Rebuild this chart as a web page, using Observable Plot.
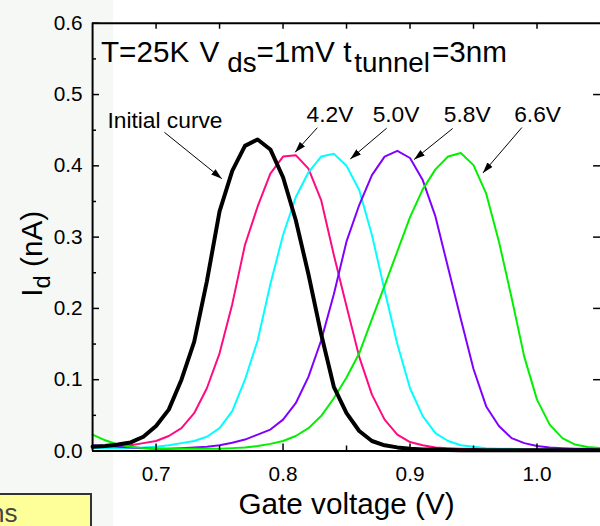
<!DOCTYPE html>
<html>
<head>
<meta charset="utf-8">
<script src="https://cdn.jsdelivr.net/npm/d3@7"></script>
<script src="https://cdn.jsdelivr.net/npm/@observablehq/plot@0.6"></script>
<style>
html,body{margin:0;padding:0;background:#fff;overflow:hidden;width:600px;height:526px;}
#wrap{position:relative;width:600px;height:526px;overflow:hidden;font-family:"Liberation Sans",Arial,Helvetica,sans-serif;}
#band{position:absolute;left:0;top:0;width:113px;height:526px;background:#f6f8f6;}
#chart{position:absolute;left:0;top:0;}
#note{position:absolute;left:-4px;top:493px;width:96px;height:40px;box-sizing:border-box;border-top:2px solid #333;border-right:2px solid #333;background:#ffff99;overflow:hidden;}
#note span{position:absolute;left:-6px;top:5px;font-size:26px;line-height:26px;color:#444;}
</style>
</head>
<body>
<div id="wrap">
  <div id="band"></div>
  <div id="chart"></div>
  <div id="note"><span>ns</span></div>
</div>
<script>
// ---- data ----
const gateV = [0.65,0.66,0.67,0.68,0.69,0.70,0.71,0.72,0.73,0.74,0.75,0.76,0.77,0.78,0.79,0.80,0.81,0.82,0.83,0.84,0.85,0.86,0.87,0.88,0.89,0.90,0.91,0.92,0.93,0.94,0.95,0.96,0.97,0.98,0.99,1.00,1.01,1.02,1.03,1.04,1.05];
const initialCurve = [0.006,0.007,0.009,0.012,0.020,0.035,0.058,0.100,0.153,0.238,0.336,0.393,0.428,0.437,0.423,0.384,0.324,0.248,0.164,0.090,0.053,0.028,0.014,0.008,0.005,0.003,0.002,0.002,0.0015,0.001,0.001,0.001,0.001,0.001,0.001,0.001,0.001,0.001,0.001,0.001,0.001];
const v42 = [0.005,0.006,0.007,0.008,0.011,0.014,0.021,0.032,0.053,0.088,0.137,0.206,0.289,0.343,0.389,0.413,0.415,0.396,0.352,0.275,0.203,0.132,0.079,0.044,0.023,0.0125,0.008,0.005,0.004,0.003,0.003,0.002,0.002,0.002,0.002,0.002,0.002,0.002,0.002,0.002,0.002];
const v50 = [0.004,0.004,0.004,0.004,0.005,0.006,0.008,0.011,0.014,0.020,0.032,0.056,0.100,0.155,0.234,0.303,0.356,0.391,0.413,0.417,0.400,0.366,0.303,0.225,0.150,0.088,0.049,0.025,0.014,0.008,0.006,0.004,0.003,0.003,0.002,0.002,0.002,0.002,0.002,0.002,0.002];
const v58 = [0.008,0.007,0.006,0.005,0.004,0.003,0.003,0.004,0.005,0.006,0.008,0.0115,0.016,0.023,0.030,0.044,0.067,0.104,0.155,0.220,0.294,0.345,0.387,0.413,0.421,0.411,0.380,0.329,0.257,0.185,0.115,0.0625,0.035,0.018,0.011,0.007,0.005,0.004,0.003,0.003,0.003];
const v66 = [0.023,0.015,0.009,0.006,0.004,0.003,0.003,0.003,0.003,0.003,0.003,0.004,0.005,0.007,0.010,0.014,0.021,0.032,0.049,0.074,0.103,0.137,0.185,0.232,0.280,0.328,0.367,0.395,0.413,0.418,0.401,0.361,0.294,0.215,0.132,0.072,0.037,0.018,0.009,0.0056,0.004];

const labelText = ["Initial curve","4.2V","5.0V","5.8V","6.6V"];
const labelX = [0.707,0.837,0.889,0.945,1.0005];
const labelY = [0.464,0.472,0.472,0.472,0.472];
const arrowX1 = [0.7066,0.827,0.8816,0.9336,0.9881];
const arrowY1 = [0.447,0.4535,0.4528,0.4524,0.4538];
const arrowX2 = [0.7518,0.8095,0.853,0.9032,0.9574];
const arrowY2 = [0.382,0.419,0.4097,0.4088,0.390];

const xTickLabels = [0.7,0.8,0.9,1.0];
const xMinorTicks = [0.75,0.85,0.95];
const xTopTicks = [0.7,0.75,0.8,0.85,0.9,0.95,1.0];
const yTickLabels = [0.0,0.1,0.2,0.3,0.4,0.5,0.6];
const yMinorTicks = [0.05,0.15,0.25,0.35,0.45,0.55];
const yRightTicks = [0.1,0.2,0.3,0.4,0.5];

// ---- layout ----
const W = 606, H = 526, mL = 93, mR = 0, mT = 23, mB = 71;
const plotW = W - mL - mR, plotH = H - mT - mB;
const font = '"Liberation Sans", Arial, Helvetica, sans-serif';
const fmt = d3.format(".1f");

const curves = [
  {values: v42, color: "#ff0a80", width: 2},
  {values: v50, color: "#00ffff", width: 2},
  {values: v58, color: "#8000ff", width: 2},
  {values: v66, color: "#00f000", width: 2},
  {values: initialCurve, color: "#000000", width: 4}
];

const plot = Plot.plot({
  width: W, height: H,
  marginLeft: mL, marginRight: mR, marginTop: mT, marginBottom: mB,
  x: {domain: [0.65, 1.05]},
  y: {domain: [0, 0.6]},
  style: {fontFamily: font, background: "transparent", color: "#000", overflow: "visible"},
  marks: [
    ...curves.map(c => Plot.lineY(c.values, {x: gateV, stroke: c.color, strokeWidth: c.width, strokeLinejoin: "round"})),
    // frame (left, bottom, top)
    Plot.ruleX([0.65], {stroke: "#000", strokeWidth: 2}),
    Plot.ruleY([0, 0.6], {stroke: "#000", strokeWidth: 2}),
    // inward ticks (y1 is the top end)
    Plot.ruleX(xTickLabels, {y1: 0.6, y2: 0, insetTop: plotH - 7, stroke: "#000", strokeWidth: 1.5}),
    Plot.ruleX(xMinorTicks, {y1: 0.6, y2: 0, insetTop: plotH - 5, stroke: "#000", strokeWidth: 1.5}),
    Plot.ruleX(xTopTicks, {y1: 0.6, y2: 0, insetBottom: plotH - 6, stroke: "#000", strokeWidth: 1.5}),
    Plot.ruleY(yTickLabels, {x1: 0.65, x2: 1.05, insetRight: plotW - 7, stroke: "#000", strokeWidth: 1.5}),
    Plot.ruleY(yMinorTicks, {x1: 0.65, x2: 1.05, insetRight: plotW - 4, stroke: "#000", strokeWidth: 1.5}),
    Plot.ruleY(yRightTicks, {x1: 0.65, x2: 1.05, insetLeft: plotW - 7, stroke: "#000", strokeWidth: 1.5}),
    // tick labels
    Plot.axisX(xTickLabels, {anchor: "bottom", tickSize: 0, tickPadding: 15, fontSize: 21, tickFormat: fmt, label: null, fill: "#000"}),
    Plot.axisY(yTickLabels, {anchor: "left", tickSize: 0, tickPadding: 10, fontSize: 21, tickFormat: fmt, label: null, fill: "#000"}),
    // annotations
    Plot.link(arrowX1, {x1: arrowX1, y1: arrowY1, x2: arrowX2, y2: arrowY2, stroke: "#000", strokeWidth: 1}),
    Plot.text(labelText, {x: labelX, y: labelY, text: labelText, fontSize: 23, fill: "#000"}),
    Plot.text(["Gate voltage (V)"], {frameAnchor: "bottom", lineAnchor: "middle", dy: 54, fontSize: 30, fill: "#000"})
  ]
});

document.getElementById("chart").appendChild(plot);

const svg = d3.select(plot);
const defs = svg.append("defs");
defs.append("marker")
  .attr("id", "ah")
  .attr("viewBox", "0 0 11 7")
  .attr("refX", 11).attr("refY", 3.5)
  .attr("markerWidth", 11).attr("markerHeight", 7)
  .attr("markerUnits", "userSpaceOnUse")
  .attr("orient", "auto")
  .append("path").attr("d", "M0,0L11,3.5L0,7Z").attr("fill", "#000");
svg.selectAll('g[aria-label="link"] path').attr("marker-end", "url(#ah)");

const xs = plot.scale("x"), ys = plot.scale("y");

// title with subscripts
const title = svg.append("text")
  .attr("x", xs.apply(0.657)).attr("y", ys.apply(0.545))
  .attr("text-anchor", "start")
  .attr("font-family", font).attr("font-size", 30).attr("fill", "#000");
title.append("tspan").text("T=25K");
title.append("tspan").attr("dx", 2).text(" V");
title.append("tspan").attr("dx", 8).attr("dy", 10).attr("font-size", 28).text("ds");
title.append("tspan").attr("dy", -10).text("=1mV");
title.append("tspan").text(" t");
title.append("tspan").attr("dx", 3).attr("dy", 10).attr("font-size", 28).text("tunnel");
title.append("tspan").attr("dx", 2).attr("dy", -10).text("=3nm");

// y label with subscript
const yl = svg.append("text")
  .attr("transform", `translate(42,${ys.apply(0.276)}) rotate(-90)`)
  .attr("text-anchor", "middle")
  .attr("font-family", font).attr("font-size", 30).attr("fill", "#000");
yl.append("tspan").text("I");
yl.append("tspan").attr("dy", 8).attr("font-size", 24).text("d");
yl.append("tspan").attr("dy", -8).text(" (nA)");
</script>
</body>
</html>
